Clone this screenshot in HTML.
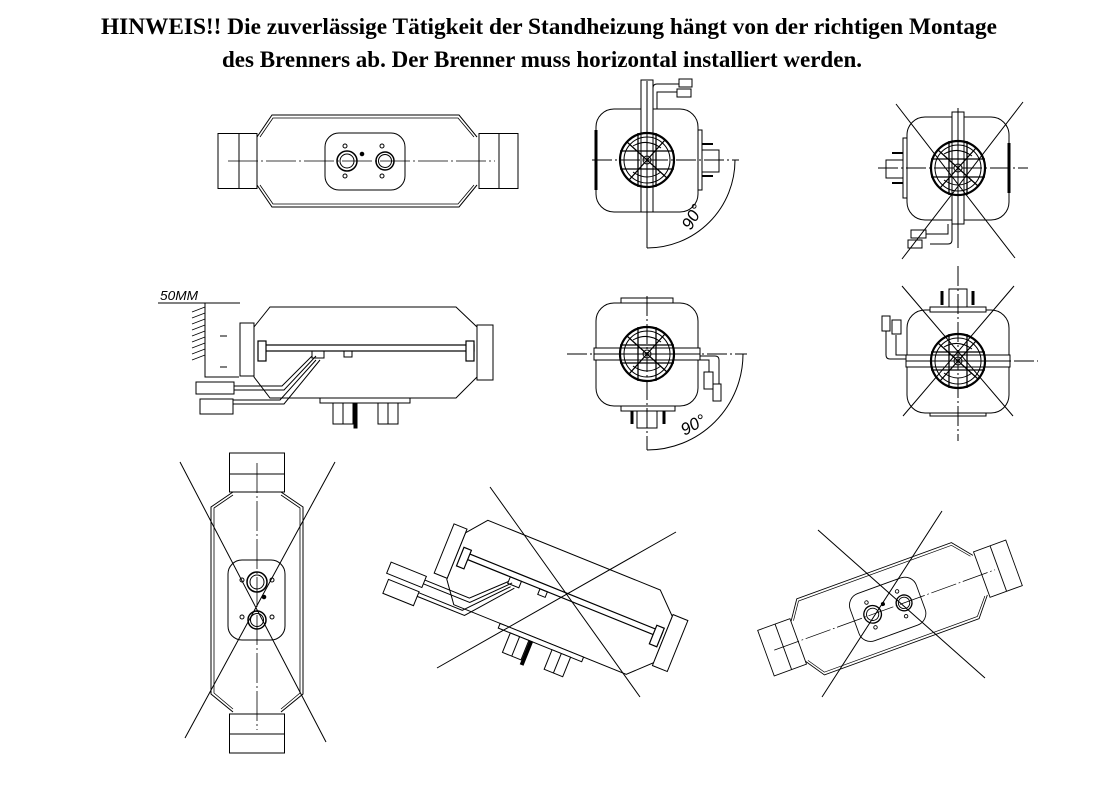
<!DOCTYPE html>
<html><head><meta charset="utf-8"><style>
html,body{margin:0;padding:0;background:#fff;}
svg{display:block;}
</style></head><body>
<svg width="1105" height="794" viewBox="0 0 1105 794" xmlns="http://www.w3.org/2000/svg">
<defs>
<g id="fan">
 <circle r="27" fill="none" stroke="#000" stroke-width="2.2"/>
 <circle r="23" fill="none" stroke="#000" stroke-width="1"/>
 <path d="M-27,-9H27M-27,9H27M-9,-27V27M9,-27V27M-20,-18L20,18M-18,20L18,-20" stroke="#000" stroke-width="1.3" fill="none"/>
 <path d="M-14,-14Q0,-22 14,-12M14,12Q0,22 -14,12" stroke="#000" stroke-width="1" fill="none"/>
 <circle r="4" fill="none" stroke="#000"/>
</g>
<g id="top">
 <path d="M-111,-24L-96,-46H91L109,-24M-111,24L-96,46H91L109,24" fill="none" stroke="#000" stroke-width="1"/>
 <path d="M-108,-24L-95,-43H90L106,-24M-108,24L-95,43H90L106,24" fill="none" stroke="#000" stroke-width="0.8"/>
 <rect x="-150" y="-27.5" width="39" height="55" fill="#fff" stroke="#000"/>
 <line x1="-129" y1="-27.5" x2="-129" y2="27.5" stroke="#000"/>
 <rect x="111" y="-27.5" width="39" height="55" fill="#fff" stroke="#000"/>
 <line x1="131" y1="-27.5" x2="131" y2="27.5" stroke="#000"/>
 <rect x="-43" y="-28" width="80" height="57" rx="14" fill="#fff" stroke="#000"/>
 <circle cx="-21" cy="0" r="10" fill="none" stroke="#000" stroke-width="1.5"/>
 <circle cx="-21" cy="0" r="7" fill="none" stroke="#000"/>
 <circle cx="17" cy="0" r="9" fill="none" stroke="#000" stroke-width="1.5"/>
 <circle cx="17" cy="0" r="6.5" fill="none" stroke="#000"/>
 <circle cx="-23" cy="-15" r="2" fill="none" stroke="#000"/><circle cx="-23" cy="15" r="2" fill="none" stroke="#000"/>
 <circle cx="14" cy="-15" r="2" fill="none" stroke="#000"/><circle cx="14" cy="15" r="2" fill="none" stroke="#000"/>
 <circle cx="-6" cy="-7" r="1.8" fill="#000"/>
 <line x1="-140" y1="0" x2="127" y2="0" stroke="#000" stroke-width="0.8" stroke-dasharray="30,3,2,3"/>
</g>
<g id="side">
 <path d="M-112,-25L-96,-45H90L111,-25V25L90,46H-96L-112,25Z" fill="#fff" stroke="#000"/>
 <rect x="-126" y="-29" width="14" height="53" fill="#fff" stroke="#000"/>
 <rect x="111" y="-27" width="16" height="55" fill="#fff" stroke="#000"/>
 <rect x="-107" y="-7" width="215" height="6" fill="none" stroke="#000" stroke-width="1.2"/>
 <rect x="-108" y="-11" width="8" height="20" fill="#fff" stroke="#000" stroke-width="1.2"/>
 <rect x="100" y="-11" width="8" height="20" fill="#fff" stroke="#000" stroke-width="1.2"/>
 <rect x="-54" y="-1" width="12" height="7" fill="none" stroke="#000"/>
 <rect x="-22" y="-1" width="8" height="6" fill="none" stroke="#000"/>
 <path d="M-50,4L-82,38H-136M-54,4L-84,34H-136M-50,8L-86,48H-133M-46,8L-82,52H-133" fill="none" stroke="#000" stroke-width="1"/>
 <rect x="-170" y="30" width="38" height="12" fill="#fff" stroke="#000"/>
 <rect x="-166" y="47" width="33" height="15" fill="#fff" stroke="#000"/>
 <rect x="-46" y="46" width="90" height="5" fill="#fff" stroke="#000"/>
 <rect x="-33" y="51" width="20" height="21" fill="#fff" stroke="#000"/>
 <line x1="-23" y1="51" x2="-23" y2="72" stroke="#000"/>
 <rect x="12" y="51" width="20" height="21" fill="#fff" stroke="#000"/>
 <line x1="22" y1="51" x2="22" y2="72" stroke="#000"/>
 <rect x="-12" y="51" width="3" height="25" fill="#000"/>
</g>
<g id="endbox">
 <rect x="-51" y="-51" width="102" height="103" rx="18" fill="#fff" stroke="#000"/>
</g>
</defs>

<g font-family="Liberation Serif, serif" font-weight="bold" font-size="23" fill="#000">
 <text x="101" y="34" textLength="896" lengthAdjust="spacingAndGlyphs">HINWEIS!! Die zuverlässige Tätigkeit der Standheizung hängt von der richtigen Montage</text>
 <text x="222" y="67" textLength="640" lengthAdjust="spacingAndGlyphs">des Brenners ab. Der Brenner muss horizontal installiert werden.</text>
</g>

<g fill="none" stroke="#000" stroke-width="1">
<use href="#top" transform="translate(368,161)"/>

<use href="#side" transform="translate(366,352)"/>
<path d="M205,303V377H239" fill="none" stroke="#000"/>
<line x1="158" y1="303" x2="240" y2="303"/>
<text x="160" y="300" font-family="Liberation Sans, sans-serif" font-style="italic" font-size="13" stroke="none" fill="#000" textLength="38" lengthAdjust="spacingAndGlyphs">50MM</text>
<g stroke="#000" stroke-width="0.8">
 <path d="M192,312l13,-5M192,318l13,-5M192,324l13,-5M192,330l13,-5M192,336l13,-5M192,342l13,-5M192,348l13,-5M192,354l13,-5M192,360l13,-5"/>
</g>
<line x1="220" y1="336" x2="227" y2="336"/><line x1="220" y1="367" x2="227" y2="367"/>

<g transform="translate(647,160)">
 <use href="#endbox"/>
 <rect x="-6" y="-80" width="12" height="132" fill="#fff" stroke="#000"/>
 <line x1="0" y1="-79" x2="0" y2="52"/>
 <use href="#fan"/>
 <line x1="-51" y1="-30" x2="-51" y2="30" stroke-width="3"/>
 <rect x="51" y="-30" width="4" height="60" fill="#fff"/>
 <rect x="55" y="-10" width="17" height="22" fill="#fff"/>
 <path d="M55,-16H66M55,16H66" stroke-width="2"/>
 <path d="M6,-51V-72Q6,-76 10,-76H32M10,-51V-68H30"/>
 <rect x="32" y="-81" width="13" height="8" fill="#fff"/>
 <rect x="30" y="-71" width="14" height="8" fill="#fff"/>
 <line x1="-55" y1="0" x2="92" y2="0" stroke-dasharray="20,3,2,3"/>
 <line x1="0" y1="52" x2="0" y2="88"/>
 <path d="M0,88A88,88 0 0 0 88,0"/>
</g>
<text x="680" y="228" font-family="Liberation Sans, sans-serif" font-style="italic" font-size="17" transform="rotate(-60 688 220)" stroke="none" fill="#000">90°</text>

<g transform="translate(647,354)">
 <use href="#endbox"/>
 <rect x="-26" y="-56" width="52" height="5" fill="#fff"/>
 <rect x="-53" y="-6" width="106" height="12" fill="#fff"/>
 <line x1="-53" y1="0" x2="53" y2="0"/>
 <use href="#fan"/>
 <rect x="-26" y="52" width="54" height="5" fill="#fff"/>
 <rect x="-10" y="57" width="20" height="17" fill="#fff"/>
 <path d="M-15,57V70M17,57V70" stroke-width="3"/>
 <path d="M53,2H68Q72,2 72,6V30M53,6H62V18"/>
 <rect x="57" y="18" width="9" height="17" fill="#fff"/>
 <rect x="66" y="30" width="8" height="17" fill="#fff"/>
 <line x1="-80" y1="0" x2="100" y2="0" stroke-dasharray="20,3,2,3"/>
 <line x1="0" y1="-58" x2="0" y2="96" stroke-dasharray="20,3,2,3"/>
 <path d="M0,96A96,96 0 0 0 96,0"/>
</g>
<text x="680" y="432" font-family="Liberation Sans, sans-serif" font-style="italic" font-size="17" transform="rotate(-28 690 425)" stroke="none" fill="#000">90°</text>

<g transform="translate(958,168)">
 <use href="#endbox"/>
 <line x1="51" y1="-25" x2="51" y2="25" stroke-width="3"/>
 <rect x="-6" y="-56" width="12" height="112" fill="#fff"/>
 <use href="#fan"/>
 <rect x="-55" y="-30" width="4" height="60" fill="#fff"/>
 <rect x="-72" y="-8" width="17" height="18" fill="#fff"/>
 <path d="M-66,-15H-55M-66,15H-55" stroke-width="2"/>
 <path d="M-6,56V72Q-6,76 -10,76H-28M-10,56V66H-32"/>
 <rect x="-47" y="62" width="15" height="8" fill="#fff"/>
 <rect x="-50" y="72" width="14" height="8" fill="#fff"/>
 <line x1="-80" y1="0" x2="70" y2="0" stroke-dasharray="20,3,2,3"/>
 <line x1="0" y1="-60" x2="0" y2="80"/>
 <path d="M-62,-64L57,90M65,-66L-56,91"/>
</g>

<g transform="translate(958,361)">
 <use href="#endbox"/>
 <rect x="-28" y="-54" width="56" height="5" fill="#fff"/>
 <rect x="-9" y="-72" width="18" height="18" fill="#fff"/>
 <path d="M-16,-70V-56M15,-70V-56" stroke-width="3"/>
 <rect x="-52" y="-6" width="104" height="12" fill="#fff"/>
 <line x1="-52" y1="0" x2="52" y2="0"/>
 <use href="#fan"/>
 <rect x="-28" y="52" width="56" height="3" fill="#fff"/>
 <path d="M-52,-2H-68Q-72,-2 -72,-6V-30M-52,-6H-62V-26"/>
 <rect x="-76" y="-45" width="8" height="15" fill="#fff"/>
 <rect x="-66" y="-41" width="9" height="14" fill="#fff"/>
 <line x1="0" y1="-95" x2="0" y2="80" stroke-dasharray="20,3,2,3"/>
 <line x1="0" y1="0" x2="80" y2="0" stroke-dasharray="20,3,2,3"/>
 <path d="M-56,-75L55,55M56,-75L-55,55"/>
</g>

<use href="#top" transform="translate(257,603) rotate(90)"/>
<path d="M180,462L326,742M335,462L185,738"/>

<use href="#side" transform="translate(560,598) rotate(22)"/>
<path d="M490,487L640,697M676,532L437,668"/>

<use href="#top" transform="translate(890,608) rotate(-20) scale(0.88)"/>
<path d="M818,530L985,678M942,511L822,697"/>
</g>
</svg>
</body></html>
